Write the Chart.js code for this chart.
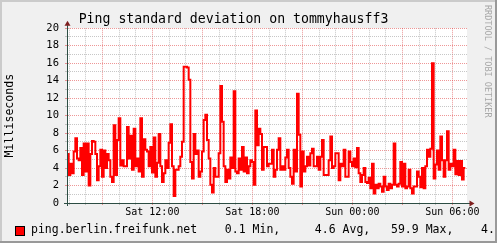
<!DOCTYPE html>
<html>
<head>
<meta charset="utf-8">
<script src="https://cdn.jsdelivr.net/npm/chart.js@4.4.0/dist/chart.umd.min.js"></script>
<style>
html, body { margin: 0; padding: 0; background: #f0f0f0; }
canvas { display: block; }
</style>
</head>
<body>
<canvas id="pingChart" width="497" height="243"></canvas>
<script>
const chartTitle = 'Ping standard deviation on tommyhausff3';
const yAxisTitle = 'Milliseconds';
const seriesLabel = 'ping.berlin.freifunk.net';
const legendStats = ['0.1 Min,', '4.6 Avg,', '59.9 Max,', '4.'];
const xTickHours = [12, 18, 24, 30];
const xTickLabels = ['Sat 12:00', 'Sat 18:00', 'Sun 00:00', 'Sun 06:00'];
const firstHour = 6.88;   // hours since Sat 00:00
const lastHour = 30.88;
const sampleStep = 0.1;   // 6 minutes between samples

// std deviation in ms, one value per sample
const stdDevValues = [
  2.0, 5.6, 3.2, 4.5, 3.4, 5.9, 7.4, 5.1, 4.9, 6.3,
  3.2, 6.8, 3.6, 6.8, 2.0, 5.6, 7.1, 7.0, 5.6, 2.6,
  4.2, 6.1, 3.0, 6.0, 4.0, 5.6, 4.9, 3.0, 2.4, 8.9,
  3.2, 7.2, 9.7, 4.3, 4.9, 4.2, 4.2, 8.7, 5.1, 7.7,
  3.8, 8.5, 4.2, 5.1, 3.6, 9.7, 3.0, 7.3, 6.1, 5.9,
  4.2, 6.4, 3.5, 7.5, 3.0, 4.6, 7.9, 4.2, 2.4, 3.4,
  4.9, 4.0, 6.9, 9.0, 4.2, 0.8, 3.8, 3.8, 4.2, 5.3,
  7.0, 15.6, 15.6, 15.5, 14.1, 4.7, 2.8, 7.9, 5.6, 6.0,
  3.0, 3.6, 5.9, 9.5, 10.1, 7.2, 5.1, 2.1, 1.2, 4.0,
  3.0, 3.0, 5.7, 13.4, 9.3, 4.2, 2.4, 3.8, 2.8, 5.2,
  4.0, 12.8, 3.6, 3.4, 5.1, 3.8, 6.4, 3.6, 5.2, 3.4,
  4.2, 4.9, 4.7, 2.1, 10.6, 6.6, 8.5, 7.9, 3.8, 6.4,
  6.4, 4.2, 4.5, 4.5, 6.1, 3.0, 3.8, 6.1, 7.4, 3.8,
  4.2, 3.8, 5.2, 6.1, 4.0, 3.0, 2.2, 6.1, 3.6, 12.5,
  7.8, 1.9, 5.9, 3.6, 4.2, 5.3, 4.3, 5.7, 6.2, 4.2,
  4.2, 5.3, 3.8, 5.3, 7.2, 3.2, 3.2, 3.2, 4.9, 7.6,
  4.0, 4.2, 5.7, 5.7, 2.6, 4.5, 4.2, 6.1, 3.0, 3.0,
  5.9, 4.7, 4.2, 5.1, 4.1, 6.3, 3.4, 2.4, 3.2, 4.0,
  2.4, 2.3, 2.9, 1.7, 4.5, 1.1, 2.1, 1.7, 2.2, 1.9,
  1.3, 3.0, 1.9, 1.5, 2.2, 1.7, 2.1, 6.8, 2.1, 1.9,
  2.2, 4.7, 1.9, 4.5, 1.7, 1.9, 3.8, 1.7, 1.1, 1.9,
  1.9, 3.6, 3.0, 1.8, 4.0, 1.7, 4.2, 6.1, 5.3, 6.2,
  16.0, 2.8, 4.4, 6.0, 3.8, 7.6, 4.9, 3.0, 4.9, 8.2,
  3.8, 4.5, 4.2, 6.1, 3.3, 4.8, 3.2, 4.8, 2.7, 4.0
];

const monoFont = '"DejaVu Sans Mono", "Liberation Mono", monospace';
const minorGrid = 'rgba(143, 143, 143, 0.5)';
const majorGrid = 'rgba(222, 48, 48, 0.5)';
const axisColor = '#2c4d43';
const arrowColor = '#7f1f1f';
const lineColor = '#ff0000';

const points = stdDevValues.map((v, i) => ({ x: firstHour + i * sampleStep, y: v }));

const legendText = seriesLabel + '    ' + legendStats[0] + '     ' + legendStats[1] +
    '   ' + legendStats[2] + '    ' + legendStats[3];

// one grid line per full hour inside the range
function hourTicks(scale) {
    const ticks = [];
    for (let h = Math.ceil(firstHour); h <= lastHour; h++) {
        ticks.push({ value: h });
    }
    scale.ticks = ticks;
}

// rrdtool look: grey background, white canvas, axis arrows, legend line, watermark, 3d frame
const rrdFrame = {
    id: 'rrdFrame',
    beforeDraw(chart) {
        const { ctx, width, height, chartArea: a } = chart;
        ctx.save();
        ctx.fillStyle = '#f0f0f0';
        ctx.fillRect(0, 0, width, height);
        ctx.fillStyle = '#ffffff';
        ctx.fillRect(a.left, a.top, a.right - a.left, a.bottom - a.top);
        ctx.restore();
    },
    afterDraw(chart) {
        const { ctx, width, height, chartArea: a } = chart;
        ctx.save();
        ctx.strokeStyle = axisColor;
        ctx.lineWidth = 1;
        ctx.beginPath();
        ctx.moveTo(a.left - 3, a.bottom + 0.5);
        ctx.lineTo(a.right + 3, a.bottom + 0.5);
        ctx.moveTo(a.left + 0.5, a.bottom + 3);
        ctx.lineTo(a.left + 0.5, a.top - 3);
        ctx.stroke();

        ctx.fillStyle = arrowColor;
        ctx.beginPath();
        ctx.moveTo(a.right + 7.5, a.bottom + 0.5);
        ctx.lineTo(a.right + 2.5, a.bottom - 2.5);
        ctx.lineTo(a.right + 2.5, a.bottom + 3.5);
        ctx.closePath();
        ctx.fill();
        ctx.beginPath();
        ctx.moveTo(a.left + 0.5, a.top - 7.5);
        ctx.lineTo(a.left - 2.5, a.top - 2.5);
        ctx.lineTo(a.left + 3.5, a.top - 2.5);
        ctx.closePath();
        ctx.fill();

        // legend line
        ctx.fillStyle = lineColor;
        ctx.fillRect(16, 227, 8, 8);
        ctx.strokeStyle = '#000';
        ctx.strokeRect(15.5, 226.5, 9, 9);
        ctx.fillStyle = '#000';
        ctx.font = '11.5px ' + monoFont;
        ctx.textBaseline = 'middle';
        ctx.fillText(legendText, 31, 230.5);

        ctx.save();
        ctx.translate(width - 6, 5);
        ctx.rotate(Math.PI / 2);
        ctx.font = '8.5px ' + monoFont;
        ctx.fillStyle = '#a8a8a8';
        ctx.textBaseline = 'top';
        ctx.fillText('RRDTOOL / TOBI OETIKER', 0, 0);
        ctx.restore();

        ctx.fillStyle = '#cbcbcb';
        ctx.fillRect(0, 0, width, 2);
        ctx.fillRect(0, 0, 2, height);
        ctx.fillStyle = '#999999';
        ctx.fillRect(0, height - 2, width, 2);
        ctx.fillRect(width - 2, 0, 2, height);
        ctx.restore();
    }
};

const ctx = document.getElementById('pingChart').getContext('2d');
const pingChart = new Chart(ctx, {
    type: 'line',
    data: {
        datasets: [{
            label: seriesLabel,
            data: points,
            borderColor: lineColor,
            backgroundColor: lineColor,
            borderWidth: 2,
            pointRadius: 0,
            stepped: 'after',
            fill: false
        }]
    },
    options: {
        responsive: false,
        animation: false,
        layout: { padding: { left: 0, right: 30, top: 0, bottom: 22 } },
        plugins: {
            title: {
                display: true,
                text: chartTitle,
                color: '#000',
                font: { family: monoFont, size: 13.2, weight: 'normal' },
                padding: { top: 12, bottom: 0.4 }
            },
            legend: { display: false },
            tooltip: { enabled: false }
        },
        scales: {
            x: {
                type: 'linear',
                min: firstHour,
                max: lastHour,
                afterBuildTicks: hourTicks,
                afterFit(scale) { scale.height = 18; },
                ticks: {
                    autoSkip: false,
                    maxRotation: 0,
                    padding: 1,
                    color: '#000',
                    font: { family: monoFont, size: 10 },
                    callback(value) {
                        const k = xTickHours.indexOf(value);
                        return k >= 0 ? xTickLabels[k] : '';
                    }
                },
                grid: {
                    drawTicks: true,
                    tickLength: 2,
                    color: c => (c.tick && c.tick.value % 3 === 0) ? majorGrid : minorGrid
                },
                border: { color: axisColor, dash: [1, 1] }
            },
            y: {
                min: 0,
                max: 20,
                afterFit(scale) { scale.width = 67; },
                ticks: {
                    stepSize: 1,
                    autoSkip: false,
                    padding: 6,
                    color: '#000',
                    font: { family: monoFont, size: 10.5 },
                    callback: v => (v % 2 === 0 ? String(v) : '')
                },
                grid: {
                    drawTicks: true,
                    tickLength: 2,
                    color: c => (c.tick && c.tick.value % 2 === 0) ? majorGrid : minorGrid
                },
                border: { color: axisColor, dash: [1, 1] },
                title: {
                    display: true,
                    text: yAxisTitle,
                    color: '#000',
                    font: { family: monoFont, size: 11.6 },
                    padding: { top: 2.7, bottom: 0 }
                }
            }
        }
    },
    plugins: [rrdFrame]
});
</script>
</body>
</html>
